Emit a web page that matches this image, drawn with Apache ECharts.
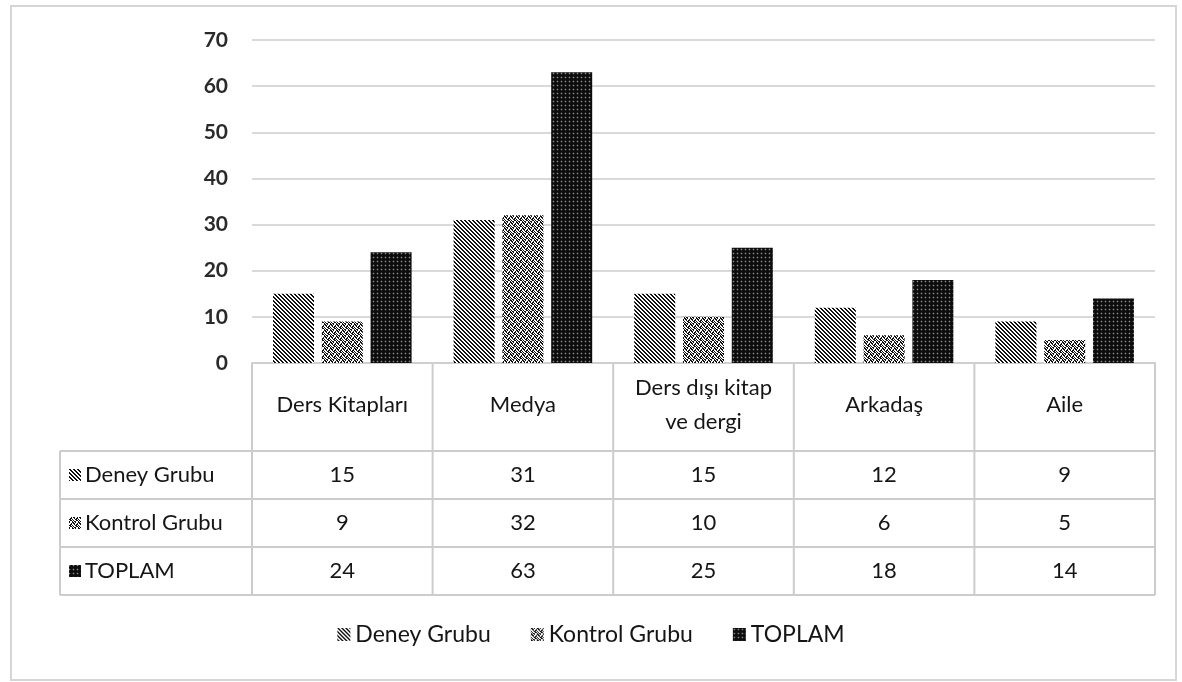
<!DOCTYPE html>
<html><head><meta charset="utf-8">
<script src="https://cdn.jsdelivr.net/npm/echarts@6/dist/echarts.min.js"></script>
<style>html,body{margin:0;padding:0;background:#fff}#c{width:1182px;height:682px}</style>
</head><body><div id="c"></div>
<script>
const categories = ['Ders Kitapları', 'Medya', 'Ders dışı kitap\nve dergi', 'Arkadaş', 'Aile'];
const seriesNames = ['Deney Grubu', 'Kontrol Grubu', 'TOPLAM'];
const deney = [15, 31, 15, 12, 9];
const kontrol = [9, 32, 10, 6, 5];
const toplam = [24, 63, 25, 18, 14];
const yTicks = [0, 10, 20, 30, 40, 50, 60, 70];

const FONT = 'Lato';
const TXT = '#151515';
function makePattern(size, fn) {
  const c = document.createElement('canvas');
  c.width = size; c.height = size;
  const g = c.getContext('2d');
  for (let y = 0; y < size; y++) for (let x = 0; x < size; x++) {
    g.fillStyle = fn(x, y); g.fillRect(x, y, 1, 1);
  }
  return { image: c, repeat: 'repeat' };
}
const patDeney = makePattern(4, (x, y) => (((x - y) % 4 + 4) % 4) < 2 ? '#111' : '#fff');
const kBits = ['110100', '011001', '001011', '100110', '010011', '101100'];
const patKontrol = makePattern(6, (x, y) => kBits[y][x] === '1' ? '#111' : '#fff');
const patToplam = makePattern(4, (x, y) => (x === 1 && y === 1) ? '#8a8a8a' : ((x === 1 || y === 1) && (x + y) % 2 === 1 ? '#2e2e2e' : '#0d0d0d'));
const patterns = [patDeney, patKontrol, patToplam];
const values = [deney, kontrol, toplam];

const chart = echarts.init(document.getElementById('c'), null, { renderer: 'canvas' });
const option = {
  backgroundColor: '#fff',
  animation: false,
  grid: { left: 252, right: 27, top: 40, bottom: 319, containLabel: false },
  legend: {
    bottom: 31, left: 'center', itemWidth: 13, itemHeight: 13, itemGap: 40, icon: 'rect',
    textStyle: { fontFamily: FONT, fontSize: 23, color: TXT },
    data: seriesNames
  },
  xAxis: {
    type: 'category', data: categories,
    axisLine: { show: true, lineStyle: { color: '#cfcfcf', width: 2 } },
    axisTick: { show: false }, axisLabel: { show: false }
  },
  yAxis: {
    type: 'value', min: yTicks[0], max: yTicks[yTicks.length - 1], interval: 10,
    axisLine: { show: false }, axisTick: { show: false },
    axisLabel: { margin: 24, fontFamily: FONT, fontSize: 21, fontWeight: 'bold', color: '#2a2a2a' },
    splitLine: { lineStyle: { color: '#d9d9d9', width: 2 } }
  },
  series: seriesNames.map((n, i) => ({
    name: n, type: 'bar', data: values[i], barWidth: 41, barGap: '19%',
    itemStyle: { color: patterns[i] }
  }))
};
chart.setOption(option);

// Data table drawn beneath the axis, aligned to the category bands
const gfx = [];
const y0 = chart.convertToPixel({ yAxisIndex: 0 }, 0);
const cx = categories.map((c, i) => chart.convertToPixel({ xAxisIndex: 0 }, i));
const band = cx[1] - cx[0];
const xL = cx[0] - band / 2, xR = cx[cx.length - 1] + band / 2;
const rowTop = y0 + 88, rowH = 48, tableLeft = 60;
const lineCol = '#cccccc';
const tStyle = { fontFamily: FONT, fontSize: 22, fill: TXT, verticalAlign: 'middle' };
gfx.push({ type: 'rect', shape: { x: 11, y: 6, width: 1165, height: 674 }, style: { fill: null, stroke: '#d6d6d6', lineWidth: 2 }, silent: true, z: 0 });
for (let i = 0; i <= categories.length; i++) {
  const x = xL + i * band;
  gfx.push({ type: 'line', shape: { x1: x, y1: y0, x2: x, y2: rowTop + 3 * rowH }, style: { stroke: lineCol, lineWidth: 2 } });
}
gfx.push({ type: 'line', shape: { x1: tableLeft, y1: rowTop, x2: tableLeft, y2: rowTop + 3 * rowH }, style: { stroke: lineCol, lineWidth: 2 } });
for (let r = 0; r <= 3; r++) {
  const y = rowTop + r * rowH;
  gfx.push({ type: 'line', shape: { x1: tableLeft, y1: y, x2: xR, y2: y }, style: { stroke: lineCol, lineWidth: 2 } });
}
categories.forEach((c, i) => {
  gfx.push({ type: 'text', x: cx[i], y: y0 + 42, style: Object.assign({}, tStyle, { text: c, align: 'center', lineHeight: 34 }) });
});
seriesNames.forEach((n, r) => {
  const yc = rowTop + r * rowH + rowH / 2;
  gfx.push({ type: 'rect', shape: { x: tableLeft + 9, y: yc - 6, width: 12, height: 12 }, style: { fill: patterns[r] } });
  gfx.push({ type: 'text', x: tableLeft + 25, y: yc, style: Object.assign({}, tStyle, { text: n, align: 'left' }) });
  values[r].forEach((v, i) => {
    gfx.push({ type: 'text', x: cx[i], y: yc, style: Object.assign({}, tStyle, { text: String(v), align: 'center' }) });
  });
});
chart.setOption({ graphic: { elements: gfx } });
</script></body></html>
